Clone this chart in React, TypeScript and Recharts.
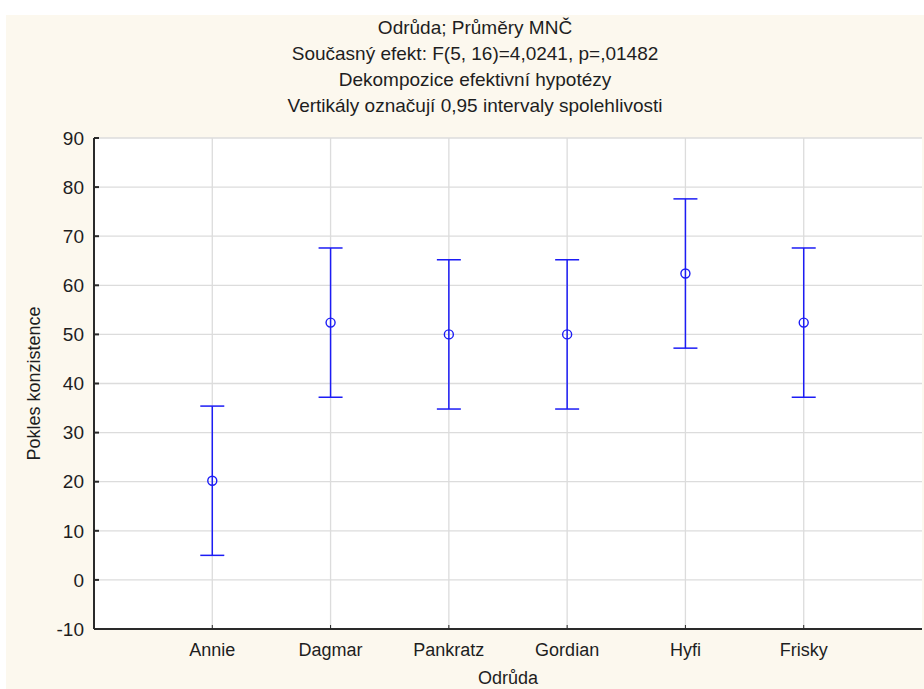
import React from "react";
import {
  ComposedChart,
  Scatter,
  ErrorBar,
  XAxis,
  YAxis,
  CartesianGrid,
  Label,
} from "recharts";

// ── Data ──────────────────────────────────────────────────────────────────────
const varieties = ["Annie", "Dagmar", "Pankratz", "Gordian", "Hyfi", "Frisky"];
const means = [20.2, 52.4, 50.0, 50.0, 62.4, 52.4];
const lower = [5.0, 37.2, 34.8, 34.8, 47.2, 37.2];
const upper = [35.4, 67.6, 65.2, 65.2, 77.6, 67.6];
const yTicks = [-10, 0, 10, 20, 30, 40, 50, 60, 70, 80, 90];
const xTicks = [1, 2, 3, 4, 5, 6];

const titleLines = [
  "Odrůda; Průměry MNČ",
  "Současný efekt: F(5, 16)=4,0241, p=,01482",
  "Dekompozice efektivní hypotézy",
  "Vertikály označují 0,95 intervaly spolehlivosti",
];

const rows = varieties.map((name, i) => ({
  x: i + 1,
  name,
  y: means[i],
  err: [means[i] - lower[i], upper[i] - means[i]],
}));

const BLUE = "#1c1cf5";
const FONT = "'Liberation Sans', Arial, sans-serif";
const TEXT = "#1e1e1e";

function Marker(props: any) {
  const { cx, cy } = props;
  if (cx == null || cy == null) return null;
  return <circle cx={cx} cy={cy} r={4.5} fill="none" stroke={BLUE} strokeWidth={1.4} />;
}

export default function App() {
  return (
    <div style={{ position: "relative", width: 924, height: 689, background: "#fff", fontFamily: FONT }}>
      <style>{`body{margin:0}`}</style>
      <div
        style={{
          position: "absolute",
          left: 6,
          top: 15,
          width: 918,
          height: 674,
          background: "#fcf8ee",
        }}
      />
      <div
        style={{
          position: "absolute",
          left: 0,
          top: 15,
          width: 950,
          textAlign: "center",
          fontSize: 19,
          lineHeight: "26px",
          color: TEXT,
        }}
      >
        {titleLines.map((t) => (
          <div key={t}>{t}</div>
        ))}
      </div>
      <div style={{ position: "absolute", left: 0, top: 0 }}>
        <ComposedChart
          width={924}
          height={689}
          data={rows}
          margin={{ top: 138, right: 2, bottom: 30, left: 54 }}
        >
          <CartesianGrid
            stroke="#dcdcdc"
            strokeWidth={1.3}
            fill="#ffffff"
            fillOpacity={1}
            horizontalValues={yTicks}
            verticalValues={xTicks}
          />
          <XAxis
            type="number"
            dataKey="x"
            domain={[0, 7]}
            ticks={xTicks}
            interval={0}
            allowDataOverflow
            tickFormatter={(v: number) => varieties[v - 1] ?? ""}
            height={30}
            tickSize={-4}
            tickMargin={18}
            axisLine={{ stroke: "#2a2a2a", strokeWidth: 2 }}
            tickLine={{ stroke: "#2a2a2a" }}
            tick={{ fill: TEXT, fontSize: 18, fontFamily: FONT }}
          >
            <Label
              value="Odrůda"
              position="insideBottom"
              offset={-25}
              style={{ fill: TEXT, fontSize: 18, fontFamily: FONT }}
            />
          </XAxis>
          <XAxis
            xAxisId="top"
            orientation="top"
            type="number"
            dataKey="x"
            domain={[0, 7]}
            height={0}
            tick={false}
            tickLine={false}
            axisLine={{ stroke: "#2a2a2a", strokeWidth: 2 }}
          />
          <YAxis
            type="number"
            domain={[-10, 90]}
            ticks={yTicks}
            interval={0}
            width={40}
            tickSize={-5}
            tickMargin={15}
            axisLine={{ stroke: "#2a2a2a", strokeWidth: 2 }}
            tickLine={{ stroke: "#2a2a2a", strokeWidth: 2 }}
            tick={{ fill: TEXT, fontSize: 19, fontFamily: FONT }}
          >
            <Label
              value="Pokles konzistence"
              angle={-90}
              position="insideLeft"
              offset={-20}
              style={{ fill: TEXT, fontSize: 18, fontFamily: FONT, textAnchor: "middle" }}
            />
          </YAxis>
          <YAxis
            yAxisId="right"
            orientation="right"
            type="number"
            domain={[-10, 90]}
            ticks={yTicks}
            interval={0}
            width={0}
            tick={false}
            tickSize={-5}
            axisLine={{ stroke: "#707070", strokeWidth: 3 }}
            tickLine={{ stroke: "#555", strokeWidth: 2 }}
          />
          <Scatter dataKey="y" fill={BLUE} shape={<Marker />} isAnimationActive={false}>
            <ErrorBar
              dataKey="err"
              direction="y"
              width={12}
              stroke={BLUE}
              strokeWidth={1.5}
              isAnimationActive={false}
            />
          </Scatter>
        </ComposedChart>
      </div>
    </div>
  );
}
